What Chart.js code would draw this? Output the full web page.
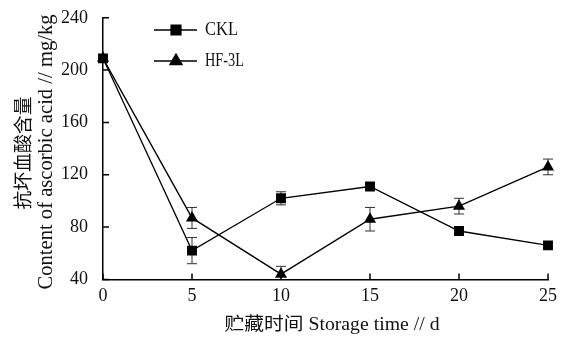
<!DOCTYPE html>
<html>
<head>
<meta charset="utf-8">
<script src="https://cdn.jsdelivr.net/npm/chart.js@4/dist/chart.umd.min.js"></script>
<style>
  html, body { margin: 0; padding: 0; background: #fff; }
  #wrap { width: 568px; height: 340px; }
</style>
</head>
<body>
<div id="wrap"><canvas id="c" width="568" height="340"></canvas></div>
<script>
// Storage days and ascorbic acid content (mg/kg), mean and error
const days = [0, 5, 10, 15, 20, 25];
const cklValues = [209, 62, 102, 111, 77, 66];
const cklErrors = [2, 10, 5, 2, 2, 2];
const hfValues = [209, 87, 44, 86, 96, 126];
const hfErrors = [2, 8, 6, 9, 6, 6];
const seriesNames = ['CKL', 'HF-3L'];
const xTicks = [0, 5, 10, 15, 20, 25];
const yTicks = [40, 80, 120, 160, 200, 240];
const yTitleLines = ['抗坏血酸含量', 'Content of ascorbic acid // mg/kg'];
const xTitle = '贮藏时间 Storage time // d';

const INK = '#111';
const SERIF = "'Liberation Serif', 'Noto Sans CJK SC', serif";

// draw text squeezed/stretched to a given width, centred on (cx, cy)
function fitText(ctx, text, cx, cy, width, size, angle) {
  ctx.save();
  ctx.font = size + 'px ' + SERIF;
  const w = ctx.measureText(text).width;
  ctx.translate(cx, cy);
  if (angle) ctx.rotate(angle);
  ctx.scale(width / w, 1);
  ctx.fillStyle = INK;
  ctx.textAlign = 'center';
  ctx.textBaseline = 'middle';
  ctx.fillText(text, 0, 0);
  ctx.restore();
}

function leftText(ctx, text, x, cy, width, size) {
  ctx.save();
  ctx.font = size + 'px ' + SERIF;
  const w = ctx.measureText(text).width;
  ctx.translate(x, cy);
  ctx.scale(width / w, 1);
  ctx.fillStyle = INK;
  ctx.textAlign = 'left';
  ctx.textBaseline = 'middle';
  ctx.fillText(text, 0, 0);
  ctx.restore();
}

// vertical error bars with caps, drawn underneath the markers
const errorBars = {
  id: 'errorBars',
  beforeDatasetsDraw(chart) {
    const { ctx, chartArea, scales: { x, y } } = chart;
    const errs = [cklErrors, hfErrors];
    ctx.save();
    ctx.beginPath();
    ctx.rect(chartArea.left, chartArea.top - 10, chartArea.right - chartArea.left + 10, chartArea.bottom - chartArea.top + 10);
    ctx.clip();
    ctx.strokeStyle = '#333';
    ctx.lineWidth = 1;
    chart.data.datasets.forEach((ds, i) => {
      ds.data.forEach((pt, j) => {
        const e = errs[i][j];
        const px = x.getPixelForValue(pt.x);
        const top = y.getPixelForValue(pt.y + e);
        const bot = y.getPixelForValue(pt.y - e);
        ctx.beginPath();
        ctx.moveTo(px, top); ctx.lineTo(px, bot);
        ctx.moveTo(px - 5, top); ctx.lineTo(px + 5, top);
        ctx.moveTo(px - 5, bot); ctx.lineTo(px + 5, bot);
        ctx.stroke();
      });
    });
    ctx.restore();
  }
};

// inward tick marks, axis titles and the legend
const decorations = {
  id: 'decorations',
  afterDraw(chart) {
    const { ctx, chartArea, scales: { x, y } } = chart;
    ctx.save();
    ctx.strokeStyle = '#000';
    ctx.lineWidth = 1.5;
    ctx.beginPath();
    xTicks.forEach(v => {
      const px = x.getPixelForValue(v);
      ctx.moveTo(px, chartArea.bottom); ctx.lineTo(px, chartArea.bottom - 6);
    });
    yTicks.forEach(v => {
      const py = y.getPixelForValue(v);
      ctx.moveTo(chartArea.left, py); ctx.lineTo(chartArea.left + 6, py);
    });
    ctx.stroke();
    ctx.restore();

    // axis titles
    fitText(ctx, yTitleLines[0], 25, 153, 113, 19, -Math.PI / 2);
    fitText(ctx, yTitleLines[1], 46, 152, 275, 21, -Math.PI / 2);
    fitText(ctx, xTitle, 332, 325, 215, 18, 0);

    // legend
    const rows = [
      { y: 30, ds: chart.data.datasets[0], w: 33 },
      { y: 61, ds: chart.data.datasets[1], w: 39 }
    ];
    rows.forEach(r => {
      ctx.save();
      ctx.strokeStyle = '#000';
      ctx.lineWidth = 1.3;
      ctx.beginPath();
      ctx.moveTo(154, r.y); ctx.lineTo(197, r.y);
      ctx.stroke();
      ctx.fillStyle = '#000';
      Chart.helpers.drawPoint(ctx, {
        pointStyle: r.ds.pointStyle, radius: r.ds.pointRadius, borderWidth: 1, rotation: 0
      }, 176, r.y);
      ctx.fill();
      ctx.restore();
      leftText(ctx, r.ds.label, 205, r.y, r.w, 18);
    });
  }
};

const toPoints = vals => days.map((d, i) => ({ x: d, y: vals[i] }));

new Chart(document.getElementById('c'), {
  type: 'line',
  data: {
    datasets: [
      {
        label: seriesNames[0],
        data: toPoints(cklValues),
        borderColor: '#000', backgroundColor: '#000',
        borderWidth: 1.3,
        pointStyle: 'rect', pointRadius: 7, pointHoverRadius: 7,
        pointBackgroundColor: '#000', pointBorderColor: '#000', pointBorderWidth: 0,
        tension: 0, clip: 12
      },
      {
        label: seriesNames[1],
        data: toPoints(hfValues),
        borderColor: '#000', backgroundColor: '#000',
        borderWidth: 1.3,
        pointStyle: 'triangle', pointRadius: 7, pointHoverRadius: 7,
        pointBackgroundColor: '#000', pointBorderColor: '#000', pointBorderWidth: 0,
        tension: 0, clip: 12
      }
    ]
  },
  options: {
    responsive: false,
    animation: false,
    devicePixelRatio: 1,
    layout: { padding: { left: 54, right: 20, top: 12, bottom: 35 } },
    plugins: { legend: { display: false }, tooltip: { enabled: false } },
    scales: {
      x: {
        type: 'linear', min: 0, max: 25,
        afterBuildTicks: s => { s.ticks = xTicks.map(v => ({ value: v })); },
        grid: { display: false },
        border: { display: true, color: '#000', width: 1.5 },
        ticks: { color: INK, font: { family: SERIF, size: 18 }, padding: -2, maxRotation: 0 }
      },
      y: {
        type: 'linear', min: 40, max: 240,
        afterBuildTicks: s => { s.ticks = yTicks.map(v => ({ value: v })); },
        grid: { display: false },
        border: { display: true, color: '#000', width: 1.5 },
        ticks: { color: INK, font: { family: SERIF, size: 18 }, padding: 7 }
      }
    }
  },
  plugins: [errorBars, decorations]
});
</script>
</body>
</html>
